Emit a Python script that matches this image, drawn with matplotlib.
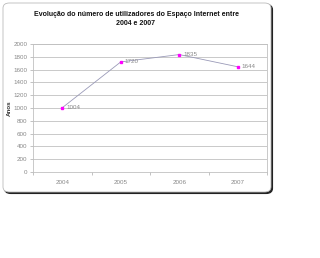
import matplotlib
matplotlib.use("Agg")
import matplotlib.pyplot as plt
from matplotlib.patches import FancyBboxPatch

plt.rcParams['font.family'] = ['Liberation Sans', 'DejaVu Sans']

years = ["2004", "2005", "2006", "2007"]
values = [1004, 1720, 1835, 1644]
labels = ["1004", "1720", "1835", "1644"]
yticks = [0, 200, 400, 600, 800, 1000, 1200, 1400, 1600, 1800, 2000]

W, H = 320, 258
fig = plt.figure(figsize=(W/100, H/100), dpi=100)
fig.patch.set_facecolor("white")

def fx(px): return px / W
def fy(py): return 1 - py / H
shadow = FancyBboxPatch((fx(4.5), fy(193.5)), fx(268), (189)/H,
                        boxstyle="round,pad=0,rounding_size=0.02",
                        transform=fig.transFigure, facecolor="#222222",
                        edgecolor="#222222", lw=0.8, zorder=-2)
frame = FancyBboxPatch((fx(3), fy(192)), fx(268), (189)/H,
                       boxstyle="round,pad=0,rounding_size=0.02",
                       transform=fig.transFigure, facecolor="white",
                       edgecolor="#bbbbbb", lw=0.6, zorder=-1)
fig.patches.extend([shadow, frame])

ax = fig.add_axes([fx(33), fy(172), fx(267) - fx(33), (172 - 44)/H])
ax.set_zorder(1)
ax.set_facecolor("white")
x = list(range(len(years)))
ax.plot(x, values, color="#9a9ab8", lw=0.6, zorder=3)
ax.plot(x, values, linestyle="none", marker="s", markersize=2.0,
        color="#ff00ff", zorder=4)
for xi, v, lab in zip(x, values, labels):
    ax.annotate(lab, (xi, v), xytext=(3, 0), textcoords="offset points",
                fontsize=4.5, color="#888888", va="center", ha="left")

ax.set_xlim(-0.5, len(years) - 0.5)
ax.set_ylim(0, 2000)
ax.set_yticks(yticks)
ax.set_yticklabels([str(t) for t in yticks], fontsize=4.5, color="#888888")
ax.set_xticks(x)
ax.set_xticklabels(years, fontsize=4.5, color="#888888")
ax.set_xticks([i - 0.5 for i in range(len(years) + 1)], minor=True)
ax.tick_params(axis="x", which="major", length=0, pad=6)
ax.tick_params(axis="x", which="minor", length=2, color="#aaaaaa", width=0.5)
ax.tick_params(axis="y", length=2, color="#aaaaaa", width=0.5, pad=2)
ax.grid(axis="y", color="#c0c0c0", lw=0.6)
for s in ax.spines.values():
    s.set_color("#c0c0c0")
    s.set_linewidth(0.6)
ax.set_axisbelow(True)

ax.set_ylabel("Anos", fontsize=4.5, fontweight="bold", color="#333333", labelpad=1)

fig.text(fx(136), fy(14), "Evolução do número de utilizadores do Espaço Internet entre",
         ha="center", va="center", fontsize=5.0, fontweight="bold", color="#111111")
fig.text(fx(136), fy(24), "2004 e 2007",
         ha="center", va="center", fontsize=5.0, fontweight="bold", color="#111111")

fig.savefig("out.png", dpi=100)
